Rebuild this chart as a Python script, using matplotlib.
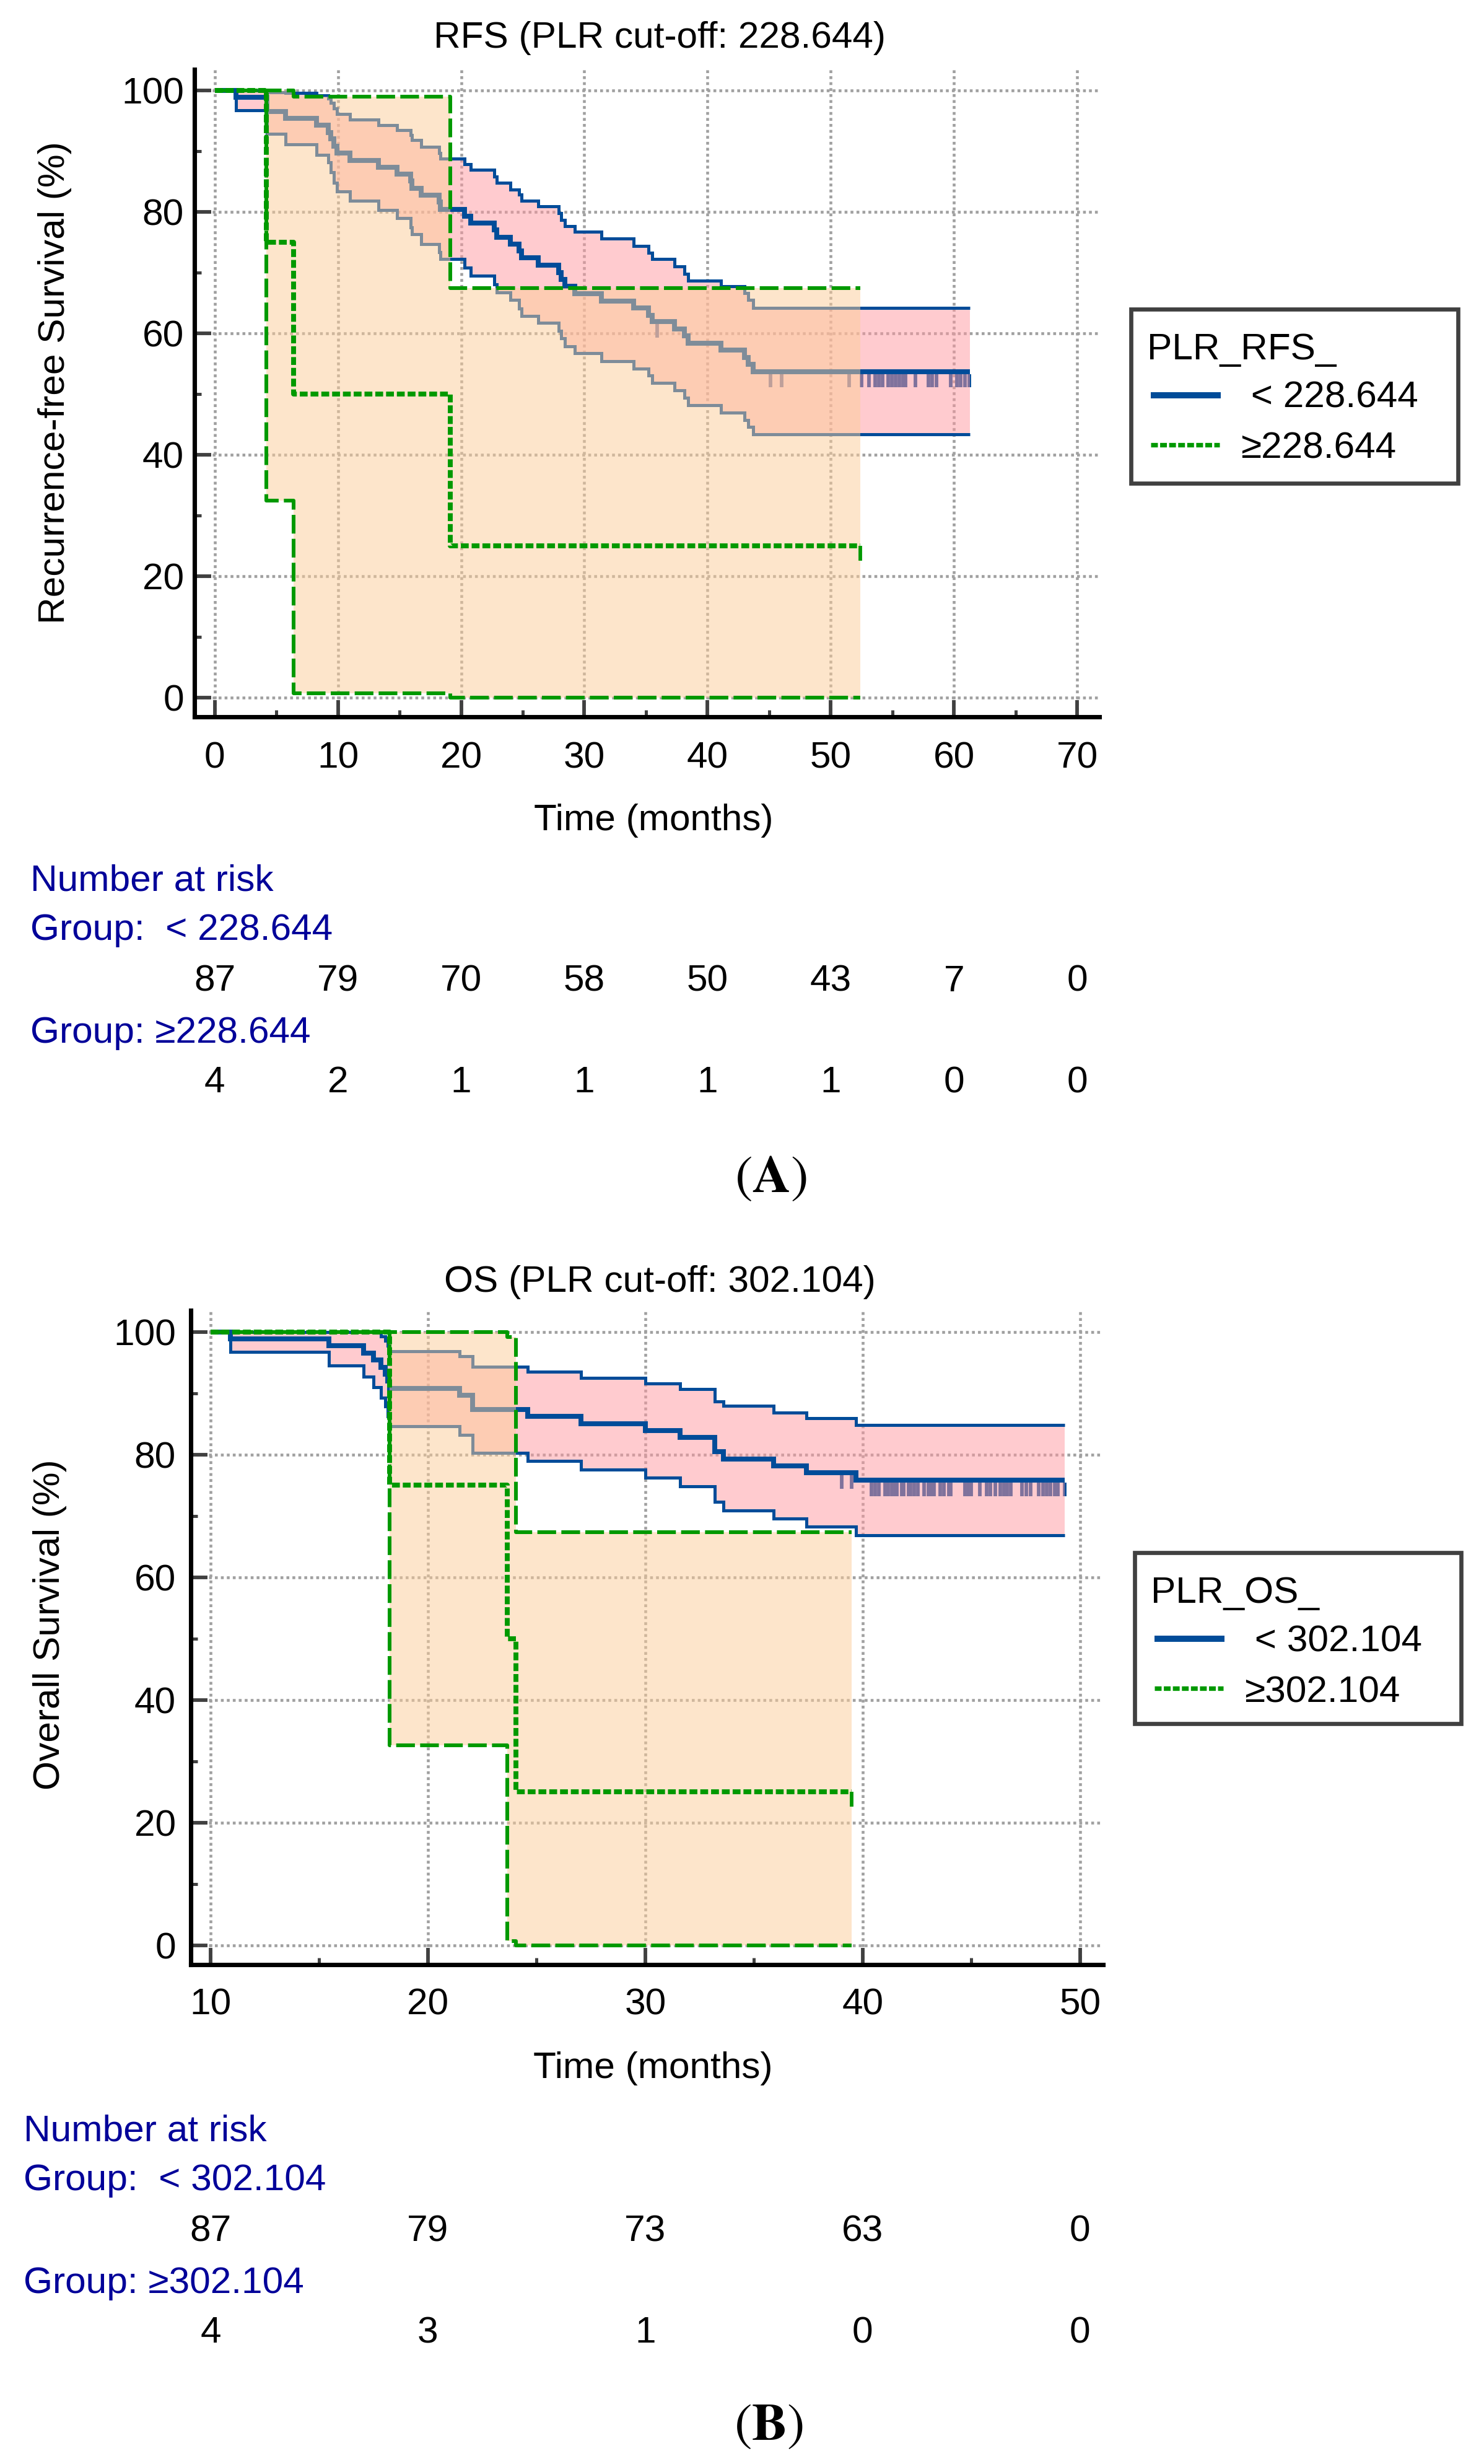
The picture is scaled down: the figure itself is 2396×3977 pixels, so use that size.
import numpy as np
import matplotlib
matplotlib.use('Agg')
import matplotlib.pyplot as plt
from matplotlib.patches import Rectangle
from matplotlib.lines import Line2D
import matplotlib.transforms as mtransforms
from matplotlib.ticker import MultipleLocator

plt.rcParams['font.family'] = ['Liberation Sans', 'DejaVu Sans']
plt.rcParams['mathtext.fontset'] = 'stix'

W, H = 2396, 3977
DPI = 300

# ---------------- Panel A: RFS ----------------
rfs_low_t = [0, 1.75, 4.25, 5.75, 8.25, 9.2, 9.4, 9.65, 9.9, 11.0,
             13.3, 14.8, 15.9, 16.0, 16.75, 18.2, 18.3, 20.3, 20.8, 22.7,
             22.9, 24.0, 24.7, 24.9, 26.25, 27.9, 28.1, 28.4, 29.2, 31.4,
             34.0, 35.2, 35.5, 37.3, 38.1, 38.4, 41.1, 43.0, 43.3, 43.7]
rfs_low_s = [100, 98.85, 96.55, 95.4, 94.25, 93.1, 92.0, 90.8, 89.65, 88.5,
             87.35, 86.2, 85.05, 83.9, 82.75, 81.6, 80.45, 79.3, 78.15, 77.0,
             75.85, 74.7, 73.55, 72.4, 71.2, 70.0, 68.85, 67.7, 66.5, 65.35,
             64.2, 63.0, 61.9, 60.7, 59.55, 58.4, 57.2, 56.05, 54.9, 53.7]
rfs_low_up = [100, 100, 99.7, 99.6, 99.2, 98.7, 97.9, 97.0, 96.1, 95.2,
              94.3, 93.5, 92.6, 91.8, 90.7, 89.7, 88.8, 87.8, 86.9, 85.8,
              84.8, 83.7, 82.8, 81.8, 80.9, 79.8, 78.7, 77.6, 76.7, 75.6,
              74.4, 73.3, 72.2, 71.0, 69.8, 68.7, 67.7, 66.6, 65.5, 64.2]
rfs_low_lo = [100, 96.7, 92.8, 91.1, 89.4, 88.2, 86.5, 84.8, 83.4, 81.8,
              80.3, 79.0, 77.4, 76.3, 74.7, 73.4, 72.2, 70.8, 69.5, 68.1,
              66.7, 65.5, 64.1, 62.9, 61.7, 60.4, 59.2, 57.9, 56.7, 55.4,
              54.2, 53.1, 51.8, 50.6, 49.4, 48.2, 46.9, 45.7, 44.6, 43.4]
rfs_low_end = 61.3
rfs_low_cens = [35.9, 45.1, 46.0, 51.5, 52.5, 53.1, 53.6, 53.9, 54.2,
                54.65, 54.95, 55.25, 55.55, 55.85, 56.05, 56.85, 57.95,
                58.25, 58.6, 59.75, 60.25, 60.55, 60.9, 61.25]

rfs_high_t = [0, 4.2, 6.4, 19.1]
rfs_high_s = [100, 75, 50, 25]
rfs_high_up = [100, 100, 99.0, 67.4]
rfs_high_lo = [100, 32.4, 0.7, 0.0]
rfs_high_end = 52.4
rfs_high_cens = [52.4]

rfs_risk_times = [0, 10, 20, 30, 40, 50, 60, 70]
rfs_risk_low = [87, 79, 70, 58, 50, 43, 7, 0]
rfs_risk_high = [4, 2, 1, 1, 1, 1, 0, 0]

# ---------------- Panel B: OS ----------------
os_low_t = [0, 10.9, 15.45, 17.05, 17.5, 17.85, 18.05, 18.15, 18.24, 21.45,
            22.05, 24.6, 27.05, 30.0, 31.6, 33.2, 33.6, 35.9, 37.4, 39.7]
os_low_s = [100, 98.85, 97.7, 96.55, 95.4, 94.25, 93.1, 92.0, 90.8, 89.65,
            87.35, 86.2, 85.05, 83.9, 82.75, 80.45, 79.3, 78.15, 77.0, 75.8]
os_low_up = [100, 100, 100, 100, 100, 99.3, 98.6, 97.7, 96.8, 96.0,
             94.3, 93.5, 92.5, 91.6, 90.7, 88.7, 87.9, 86.8, 85.9, 84.8]
os_low_lo = [100, 96.7, 94.5, 92.7, 91.0, 89.3, 87.8, 86.2, 84.6, 83.2,
             80.3, 79.0, 77.5, 76.2, 74.8, 72.3, 70.9, 69.6, 68.2, 66.8]
os_low_end = 49.3
os_low_cens = [39.05, 39.5, 40.41, 40.57, 40.76, 41.04, 41.17, 41.35, 41.48,
               41.57, 41.81, 41.88, 42.12, 42.2, 42.38, 42.54, 42.82, 43.03,
               43.16, 43.28, 43.57, 43.74, 43.97, 44.05, 44.71, 44.85, 44.99,
               45.38, 45.71, 45.87, 46.09, 46.34, 46.5, 46.65, 46.82, 47.32,
               47.52, 47.72, 48.11, 48.29, 48.46, 48.64, 48.84, 48.98, 49.29]

os_high_t = [0, 18.24, 23.64, 24.04]
os_high_s = [100, 75, 50, 25]
os_high_up = [100, 100, 99.2, 67.3]
os_high_lo = [100, 32.6, 0.7, 0.0]
os_high_end = 39.5
os_high_cens = [39.5]

os_risk_times = [10, 20, 30, 40, 50]
os_risk_low = [87, 79, 73, 63, 0]
os_risk_high = [4, 3, 1, 0, 0]

# ---------------- style ----------------
BLUE = '#004C99'
GREEN = '#009900'
PINK = '#FF99A0'
PEACH = '#FDCD99'
NAVY = '#000099'
TICKC = '#404040'
FS = 14.5

fig = plt.figure(figsize=(W / DPI, H / DPI), dpi=DPI)


def fx(x):
    return x / W


def fy(y):
    return 1 - y / H


def ftext(x, y, s, **kw):
    return fig.text(fx(x), fy(y), s, **kw)


def make_axes(left, right, top, bottom, xlim, ylim, xmaj, xmin, xpad, ypad):
    ax = fig.add_axes([fx(left), fy(bottom), (right - left) / W, (bottom - top) / H])
    ax.set_xlim(*xlim)
    ax.set_ylim(*ylim)
    for sp in ('top', 'right'):
        ax.spines[sp].set_visible(False)
    for sp in ('left', 'bottom'):
        ax.spines[sp].set_linewidth(1.7)
        ax.spines[sp].set_color('black')
    ax.xaxis.set_major_locator(MultipleLocator(xmaj))
    ax.xaxis.set_minor_locator(MultipleLocator(xmin))
    ax.yaxis.set_major_locator(MultipleLocator(20))
    ax.yaxis.set_minor_locator(MultipleLocator(10))
    ax.tick_params(which='major', direction='in', length=6.5, width=1.4,
                   color=TICKC, labelsize=FS)
    ax.tick_params(which='minor', direction='in', length=2.7, width=1.2,
                   color=TICKC)
    ax.tick_params(axis='x', which='major', pad=xpad)
    ax.tick_params(axis='y', which='major', pad=ypad)
    ax.set_axisbelow(True)
    ax.grid(True, which='major', color='#A0A0A0', linewidth=1.1,
            linestyle=(0, (1, 1.1)))
    return ax


def step_ext(t, v, end, x0):
    tt = np.maximum(np.r_[np.asarray(t, float), end], x0)
    vv = np.r_[np.asarray(v, float), v[-1]]
    return tt, vv


def value_at(t, s, c):
    idx = np.searchsorted(np.asarray(t), np.asarray(c), side='right') - 1
    return np.asarray(s)[idx]


def draw_low(ax, t, s, up, lo, end, cens, x0):
    cy = value_at(t, s, cens)
    ax.vlines(cens, cy - 0.4, cy - 2.6, colors=BLUE, linewidth=1.4, zorder=1)
    tt, uu = step_ext(t, up, end, x0)
    _, ll = step_ext(t, lo, end, x0)
    _, ss = step_ext(t, s, end, x0)
    ax.fill_between(tt, ll, uu, step='post', facecolor=PINK, alpha=0.5,
                    linewidth=0, zorder=2)
    for v in (uu, ll):
        ax.step(tt, v, where='post', color=BLUE, linewidth=1.2, zorder=3,
                solid_joinstyle='miter', solid_capstyle='butt')
    ax.step(tt, ss, where='post', color=BLUE, linewidth=1.9, zorder=3.2,
            solid_joinstyle='miter', solid_capstyle='butt')


def draw_high(ax, t, s, up, lo, end, cens, x0):
    tt, uu = step_ext(t, up, end, x0)
    _, ll = step_ext(t, lo, end, x0)
    _, ss = step_ext(t, s, end, x0)
    ax.fill_between(tt, ll, uu, step='post', facecolor=PEACH, alpha=0.5,
                    linewidth=0, zorder=4)
    for v in (uu, ll):
        ax.step(tt, v, where='post', color=GREEN, linewidth=1.45, zorder=5,
                linestyle=(0, (5, 1.4)), dash_capstyle='butt')
    ax.step(tt, ss, where='post', color=GREEN, linewidth=1.9, zorder=5.2,
            linestyle=(0, (1.6, 0.6)), dash_capstyle='butt')
    cy = value_at(t, s, cens)
    ax.vlines(cens, cy, cy - 2.4, colors=GREEN, linewidth=1.4, zorder=5)


def legend_box(x0, y0, x1, y1, title, lab1, lab2):
    fig.add_artist(Rectangle((fx(x0 + 3.4), fy(y1 - 3.4)),
                             (x1 - x0 - 6.8) / W, (y1 - y0 - 6.8) / H,
                             transform=fig.transFigure, facecolor='white',
                             edgecolor='#404040', linewidth=1.6, zorder=10))
    ftext(x0 + 29, y0 + 84, title, fontsize=FS, va='baseline', ha='left', zorder=11)
    fig.add_artist(Line2D([fx(x0 + 35), fx(x0 + 148)], [fy(y0 + 142)] * 2,
                          transform=fig.transFigure, color=BLUE, linewidth=2.4,
                          solid_capstyle='butt', zorder=11))
    fig.add_artist(Line2D([fx(x0 + 35), fx(x0 + 146)], [fy(y0 + 222)] * 2,
                          transform=fig.transFigure, color=GREEN, linewidth=1.75,
                          linestyle=(0, (1.5, 0.5)), dash_capstyle='butt',
                          zorder=11))
    ftext(x0 + 179.6, y0 + 162, lab1, fontsize=FS, va='baseline', ha='left', zorder=11)
    ftext(x0 + 179.6, y0 + 244, lab2, fontsize=FS, va='baseline', ha='left', zorder=11)


def risk_table(ax, left, y0, times, low, high, lab_low, lab_high):
    trans = mtransforms.blended_transform_factory(ax.transData, fig.transFigure)
    ftext(left, y0, 'Number at risk', fontsize=FS, color=NAVY, va='baseline')
    ftext(left, y0 + 80, lab_low, fontsize=FS, color=NAVY, va='baseline')
    for t, n in zip(times, low):
        ax.text(t, fy(y0 + 163), str(n), transform=trans, fontsize=FS,
                ha='center', va='baseline', clip_on=False)
    ftext(left, y0 + 246, lab_high, fontsize=FS, color=NAVY, va='baseline')
    for t, n in zip(times, high):
        ax.text(t, fy(y0 + 326), str(n), transform=trans, fontsize=FS,
                ha='center', va='baseline', clip_on=False)


# ---------------- Panel A ----------------
axA = make_axes(314, 1775, 111.6, 1157, (-1.64, 71.8), (-3.16, 103.5),
                10, 5, 9.6, 4.1)
draw_low(axA, rfs_low_t, rfs_low_s, rfs_low_up, rfs_low_lo, rfs_low_end,
         rfs_low_cens, 0)
draw_high(axA, rfs_high_t, rfs_high_s, rfs_high_up, rfs_high_lo, rfs_high_end,
          rfs_high_cens, 0)
axA.set_xticks(rfs_risk_times)
axA.set_yticks([0, 20, 40, 60, 80, 100])

ftext(1065, 77, 'RFS (PLR cut-off: 228.644)', fontsize=FS, ha='center', va='baseline')
ftext(89, 618, 'Recurrence-free Survival (%)', fontsize=FS, rotation=90,
      ha='center', va='center')
ftext(1055, 1325, 'Time (months)', fontsize=FS, ha='center', va='center')
legend_box(1823, 496, 2357, 783, 'PLR_RFS_', ' < 228.644', '\u2265228.644')
risk_table(axA, 49, 1437, rfs_risk_times, rfs_risk_low, rfs_risk_high,
           'Group:  < 228.644', 'Group: \u2265228.644')
ftext(1244, 1924, r'$\mathrm{(}\mathbf{A}\mathrm{)}$', fontsize=20.5,
      ha='center', va='baseline')

# ---------------- Panel B ----------------
axB = make_axes(308, 1780.6, 2115, 3171, (9.09, 51.05), (-3.16, 103.5),
                10, 5, 9.1, 5.8)
draw_low(axB, os_low_t, os_low_s, os_low_up, os_low_lo, os_low_end,
         os_low_cens, 10)
draw_high(axB, os_high_t, os_high_s, os_high_up, os_high_lo, os_high_end,
          os_high_cens, 10)
axB.set_xticks(os_risk_times)
axB.set_yticks([0, 20, 40, 60, 80, 100])

ftext(1065, 2085, 'OS (PLR cut-off: 302.104)', fontsize=FS, ha='center', va='baseline')
ftext(81, 2622, 'Overall Survival (%)', fontsize=FS, rotation=90,
      ha='center', va='center')
ftext(1054, 3338, 'Time (months)', fontsize=FS, ha='center', va='center')
legend_box(1829, 2503, 2362, 2785, 'PLR_OS_', ' < 302.104', '\u2265302.104')
risk_table(axB, 38, 3455, os_risk_times, os_risk_low, os_risk_high,
           'Group:  < 302.104', 'Group: \u2265302.104')
ftext(1241, 3938, r'$\mathrm{(}\mathbf{B}\mathrm{)}$', fontsize=20.5,
      ha='center', va='baseline')

fig.savefig('out.png', dpi=DPI, facecolor='white')
